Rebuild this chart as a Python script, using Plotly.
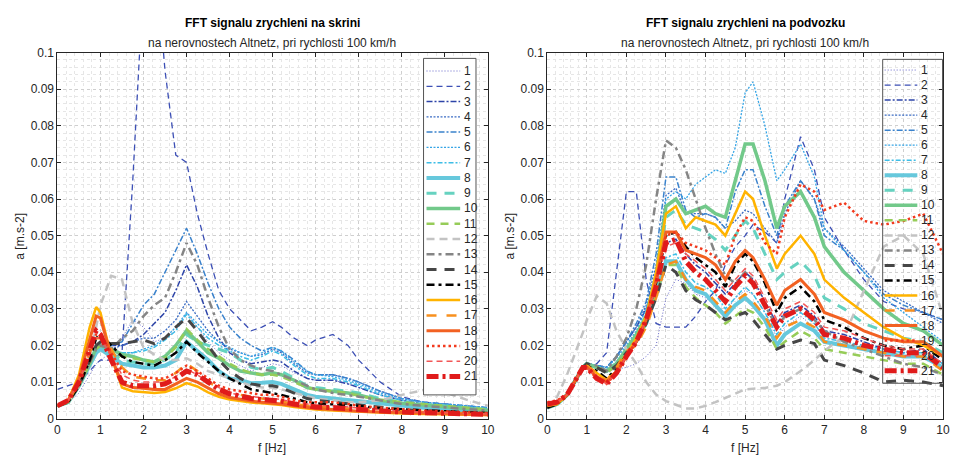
import plotly.graph_objects as go

# Frequency samples [Hz] shared by every spectrum
FREQ = [0, 0.25, 0.5, 0.75, 0.9,
        1.0, 1.25, 1.5, 1.75, 2.0,
        2.25, 2.5, 2.75, 3.0, 3.25,
        3.5, 3.75, 4.0, 4.25, 4.5,
        4.75, 5.0, 5.2, 5.5, 5.8,
        6.0, 6.4, 6.75, 7.0, 7.5,
        8.0, 8.5, 9.0, 9.5, 10.0]

# ---- FFT amplitude on the car body (skrin) [m.s-2] ----
K1 = [0.0035, 0.0045, 0.007, 0.012, 0.015, 0.016, 0.018, 0.022, 0.027, 0.025,
      0.021, 0.022, 0.024, 0.029, 0.025, 0.021, 0.018, 0.016, 0.0145, 0.013,
      0.014, 0.015, 0.0145, 0.0125, 0.011, 0.0105, 0.0105, 0.0095, 0.0085, 0.0065,
      0.005, 0.004, 0.0035, 0.003, 0.0025]
K2 = [0.008, 0.009, 0.010, 0.013, 0.015, 0.016, 0.016, 0.018, 0.065, 0.120,
      0.130, 0.095, 0.072, 0.070, 0.056, 0.045, 0.035, 0.030, 0.027, 0.024,
      0.025, 0.0265, 0.025, 0.022, 0.020, 0.0215, 0.023, 0.020, 0.016, 0.010,
      0.006, 0.0045, 0.004, 0.003, 0.0025]
K3 = [0.0035, 0.0045, 0.009, 0.015, 0.018, 0.019, 0.020, 0.020, 0.021, 0.023,
      0.026, 0.029, 0.035, 0.042, 0.036, 0.028, 0.022, 0.018, 0.016, 0.015,
      0.0155, 0.016, 0.0155, 0.013, 0.011, 0.0105, 0.0105, 0.0095, 0.0085, 0.0065,
      0.005, 0.004, 0.0035, 0.003, 0.0025]
K4 = [0.0035, 0.0045, 0.009, 0.015, 0.018, 0.019, 0.019, 0.020, 0.021, 0.022,
      0.022, 0.024, 0.027, 0.032, 0.028, 0.024, 0.021, 0.019, 0.018, 0.017,
      0.0175, 0.019, 0.018, 0.015, 0.0125, 0.012, 0.012, 0.011, 0.010, 0.0075,
      0.0055, 0.0045, 0.004, 0.0035, 0.003]
K5 = [0.0035, 0.0045, 0.009, 0.015, 0.019, 0.020, 0.020, 0.021, 0.026, 0.031,
      0.034, 0.040, 0.046, 0.052, 0.045, 0.037, 0.030, 0.025, 0.022, 0.020,
      0.0185, 0.0195, 0.0185, 0.016, 0.013, 0.012, 0.012, 0.011, 0.010, 0.0075,
      0.0055, 0.0045, 0.004, 0.0035, 0.003]
K6 = [0.0035, 0.0045, 0.009, 0.015, 0.019, 0.020, 0.019, 0.018, 0.018, 0.019,
      0.020, 0.022, 0.025, 0.029, 0.026, 0.023, 0.021, 0.0195, 0.018, 0.017,
      0.018, 0.0195, 0.0185, 0.0155, 0.013, 0.012, 0.0115, 0.0105, 0.0095, 0.007,
      0.0055, 0.0045, 0.004, 0.0035, 0.003]
K7 = [0.0035, 0.0045, 0.009, 0.015, 0.019, 0.020, 0.019, 0.018, 0.018, 0.0185,
      0.0195, 0.0215, 0.024, 0.0285, 0.025, 0.022, 0.020, 0.0185, 0.017, 0.016,
      0.017, 0.0185, 0.0175, 0.0145, 0.012, 0.011, 0.011, 0.010, 0.009, 0.0065,
      0.005, 0.004, 0.0035, 0.003, 0.0025]
K8 = [0.0035, 0.0045, 0.009, 0.015, 0.018, 0.019, 0.017, 0.015, 0.0145, 0.014,
      0.014, 0.0145, 0.016, 0.021, 0.0185, 0.016, 0.013, 0.011, 0.0105, 0.0097,
      0.0098, 0.010, 0.0095, 0.008, 0.0065, 0.006, 0.0055, 0.005, 0.0047, 0.004,
      0.0035, 0.003, 0.0025, 0.0022, 0.002]
K9 = [0.0035, 0.0045, 0.009, 0.015, 0.019, 0.020, 0.018, 0.016, 0.0155, 0.015,
      0.015, 0.016, 0.018, 0.023, 0.021, 0.020, 0.019, 0.018, 0.016, 0.014,
      0.0135, 0.014, 0.013, 0.011, 0.009, 0.0085, 0.008, 0.0075, 0.007, 0.0055,
      0.0045, 0.004, 0.0035, 0.003, 0.0025]
K10 = [0.0035, 0.0045, 0.009, 0.015, 0.0195, 0.020, 0.019, 0.0175, 0.017, 0.016,
       0.0155, 0.017, 0.020, 0.024, 0.021, 0.018, 0.0165, 0.0145, 0.013, 0.0125,
       0.012, 0.0125, 0.012, 0.0105, 0.0085, 0.008, 0.0075, 0.007, 0.0065, 0.005,
       0.0042, 0.0037, 0.0032, 0.0028, 0.0023]
K11 = [0.0035, 0.0045, 0.009, 0.015, 0.019, 0.020, 0.0185, 0.017, 0.0165, 0.016,
       0.0155, 0.0165, 0.0195, 0.0245, 0.0215, 0.019, 0.017, 0.015, 0.0135, 0.0125,
       0.012, 0.012, 0.0115, 0.010, 0.0085, 0.008, 0.0075, 0.007, 0.0062, 0.0052,
       0.0045, 0.004, 0.0035, 0.003, 0.0025]
K12 = [0.0035, 0.0045, 0.009, 0.017, 0.025, 0.031, 0.039, 0.038, 0.026, 0.0195,
       0.0175, 0.016, 0.016, 0.0165, 0.015, 0.013, 0.012, 0.011, 0.010, 0.009,
       0.0085, 0.0085, 0.008, 0.007, 0.006, 0.0055, 0.005, 0.0045, 0.0045, 0.005,
       0.0065, 0.0078, 0.0072, 0.0052, 0.0035]
K13 = [0.0035, 0.0045, 0.009, 0.015, 0.019, 0.020, 0.019, 0.022, 0.024, 0.028,
       0.031, 0.033, 0.040, 0.048, 0.042, 0.033, 0.025, 0.019, 0.016, 0.0145,
       0.0135, 0.013, 0.012, 0.0105, 0.009, 0.008, 0.007, 0.0065, 0.006, 0.005,
       0.004, 0.0035, 0.003, 0.0025, 0.0022]
K14 = [0.0035, 0.0045, 0.009, 0.016, 0.020, 0.021, 0.0205, 0.0205, 0.021, 0.0215,
       0.0205, 0.022, 0.025, 0.0275, 0.024, 0.020, 0.016, 0.013, 0.011, 0.0095,
       0.009, 0.009, 0.0085, 0.007, 0.0055, 0.005, 0.0045, 0.004, 0.0037, 0.003,
       0.0025, 0.0022, 0.002, 0.0018, 0.0015]
K15 = [0.0035, 0.0045, 0.009, 0.016, 0.022, 0.023, 0.020, 0.017, 0.0155, 0.015,
       0.0145, 0.016, 0.018, 0.021, 0.018, 0.0155, 0.013, 0.011, 0.0095, 0.008,
       0.0075, 0.007, 0.0065, 0.0055, 0.0045, 0.0042, 0.004, 0.0037, 0.0035, 0.0028,
       0.0025, 0.0022, 0.002, 0.0018, 0.0015]
K16 = [0.0035, 0.005, 0.012, 0.025, 0.0305, 0.029, 0.017, 0.0085, 0.0075, 0.0073,
       0.007, 0.0073, 0.0083, 0.0097, 0.0088, 0.0072, 0.006, 0.0052, 0.0047, 0.0044,
       0.0042, 0.004, 0.0037, 0.0032, 0.0028, 0.0025, 0.0022, 0.002, 0.0018, 0.0016,
       0.0014, 0.0013, 0.0012, 0.0011, 0.001]
K17 = [0.0035, 0.0045, 0.010, 0.018, 0.022, 0.022, 0.019, 0.014, 0.0115, 0.011,
       0.0105, 0.0105, 0.0125, 0.015, 0.013, 0.010, 0.0085, 0.007, 0.0065, 0.006,
       0.0055, 0.005, 0.0048, 0.004, 0.0035, 0.0033, 0.003, 0.0027, 0.0025, 0.0022,
       0.002, 0.0018, 0.0016, 0.0015, 0.0013]
K18 = [0.0035, 0.005, 0.011, 0.022, 0.028, 0.0275, 0.017, 0.0095, 0.0085, 0.0083,
       0.008, 0.008, 0.0095, 0.011, 0.010, 0.0083, 0.0068, 0.0058, 0.0052, 0.0048,
       0.0045, 0.0043, 0.004, 0.0035, 0.003, 0.0028, 0.0025, 0.0022, 0.002, 0.0018,
       0.0016, 0.0014, 0.0013, 0.0012, 0.0011]
K19 = [0.0035, 0.005, 0.010, 0.019, 0.023, 0.023, 0.018, 0.013, 0.012, 0.0115,
       0.011, 0.011, 0.0125, 0.0145, 0.013, 0.011, 0.009, 0.008, 0.0075, 0.007,
       0.0065, 0.0065, 0.006, 0.005, 0.0045, 0.0045, 0.0045, 0.004, 0.0035, 0.003,
       0.0025, 0.0022, 0.002, 0.0018, 0.0015]
K20 = [0.0035, 0.005, 0.010, 0.018, 0.022, 0.022, 0.017, 0.012, 0.0105, 0.010,
       0.010, 0.010, 0.0115, 0.0135, 0.012, 0.010, 0.0085, 0.007, 0.0065, 0.006,
       0.0057, 0.0055, 0.0052, 0.0045, 0.004, 0.0037, 0.0035, 0.0032, 0.003, 0.0025,
       0.002, 0.0018, 0.0016, 0.0015, 0.0013]
K21 = [0.0035, 0.005, 0.010, 0.019, 0.024, 0.023, 0.016, 0.010, 0.009, 0.009,
       0.009, 0.0095, 0.011, 0.013, 0.012, 0.010, 0.008, 0.0068, 0.006, 0.0055,
       0.0052, 0.005, 0.0048, 0.004, 0.0035, 0.0032, 0.003, 0.0027, 0.0025, 0.002,
       0.0018, 0.0016, 0.0015, 0.0013, 0.0012]

# ---- FFT amplitude on the bogie (podvozek) [m.s-2] ----
P1 = [0.003, 0.004, 0.0065, 0.011, 0.014, 0.0145, 0.014, 0.013, 0.0135, 0.014,
      0.015, 0.017, 0.020, 0.033, 0.038, 0.037, 0.034, 0.033, 0.031, 0.029,
      0.033, 0.035, 0.034, 0.029, 0.022, 0.025, 0.028, 0.025, 0.021, 0.020,
      0.019, 0.018, 0.017, 0.017, 0.014]
P2 = [0.003, 0.004, 0.0065, 0.011, 0.014, 0.015, 0.015, 0.018, 0.040, 0.062,
      0.062, 0.038, 0.026, 0.025, 0.025, 0.025, 0.028, 0.032, 0.035, 0.042,
      0.047, 0.050, 0.053, 0.051, 0.048, 0.060, 0.077, 0.068, 0.055, 0.046,
      0.038, 0.032, 0.030, 0.029, 0.027]
P3 = [0.003, 0.004, 0.0065, 0.011, 0.014, 0.015, 0.0145, 0.014, 0.017, 0.021,
      0.025, 0.030, 0.038, 0.048, 0.049, 0.045, 0.042, 0.040, 0.037, 0.034,
      0.037, 0.040, 0.038, 0.032, 0.026, 0.029, 0.031, 0.028, 0.024, 0.023,
      0.021, 0.019, 0.018, 0.019, 0.015]
P4 = [0.003, 0.004, 0.0065, 0.011, 0.014, 0.015, 0.0145, 0.014, 0.017, 0.021,
      0.025, 0.031, 0.042, 0.061, 0.063, 0.056, 0.056, 0.056, 0.055, 0.052,
      0.054, 0.057, 0.056, 0.052, 0.048, 0.056, 0.065, 0.060, 0.052, 0.047,
      0.041, 0.035, 0.032, 0.029, 0.026]
P5 = [0.003, 0.004, 0.0065, 0.011, 0.014, 0.015, 0.0145, 0.014, 0.017, 0.021,
      0.026, 0.032, 0.045, 0.066, 0.066, 0.057, 0.055, 0.056, 0.055, 0.052,
      0.062, 0.068, 0.068, 0.058, 0.050, 0.058, 0.065, 0.060, 0.050, 0.046,
      0.040, 0.034, 0.031, 0.029, 0.027]
P6 = [0.003, 0.004, 0.0065, 0.011, 0.014, 0.015, 0.0145, 0.014, 0.0165, 0.020,
      0.024, 0.030, 0.040, 0.060, 0.062, 0.060, 0.064, 0.066, 0.068, 0.067,
      0.074, 0.089, 0.092, 0.080, 0.065, 0.068, 0.075, 0.066, 0.052, 0.046,
      0.040, 0.033, 0.029, 0.025, 0.021]
P7 = [0.003, 0.004, 0.0065, 0.011, 0.014, 0.015, 0.014, 0.013, 0.0155, 0.019,
      0.022, 0.027, 0.035, 0.044, 0.045, 0.040, 0.037, 0.036, 0.034, 0.030,
      0.033, 0.036, 0.034, 0.029, 0.023, 0.026, 0.029, 0.026, 0.022, 0.021,
      0.020, 0.019, 0.018, 0.018, 0.015]
P8 = [0.003, 0.004, 0.0065, 0.011, 0.014, 0.015, 0.014, 0.013, 0.015, 0.0185,
      0.022, 0.026, 0.034, 0.043, 0.043, 0.038, 0.035, 0.034, 0.031, 0.028,
      0.031, 0.033, 0.031, 0.027, 0.020, 0.023, 0.026, 0.024, 0.021, 0.020,
      0.019, 0.018, 0.017, 0.017, 0.014]
P9 = [0.003, 0.004, 0.0065, 0.011, 0.014, 0.015, 0.014, 0.013, 0.015, 0.019,
      0.023, 0.028, 0.038, 0.055, 0.057, 0.053, 0.052, 0.051, 0.049, 0.046,
      0.050, 0.054, 0.052, 0.045, 0.038, 0.040, 0.043, 0.039, 0.033, 0.030,
      0.026, 0.024, 0.022, 0.021, 0.018]
P10 = [0.003, 0.004, 0.0065, 0.011, 0.014, 0.015, 0.014, 0.013, 0.015, 0.019,
       0.023, 0.028, 0.039, 0.058, 0.060, 0.056, 0.057, 0.058, 0.056, 0.055,
       0.065, 0.075, 0.075, 0.065, 0.052, 0.058, 0.062, 0.055, 0.047, 0.040,
       0.035, 0.030, 0.026, 0.024, 0.020]
P11 = [0.003, 0.004, 0.0065, 0.011, 0.014, 0.0145, 0.014, 0.0125, 0.0145, 0.018,
       0.021, 0.026, 0.034, 0.042, 0.042, 0.036, 0.033, 0.031, 0.029, 0.026,
       0.028, 0.030, 0.029, 0.025, 0.019, 0.021, 0.024, 0.022, 0.019, 0.018,
       0.017, 0.016, 0.015, 0.015, 0.012]
P12 = [0.003, 0.006, 0.012, 0.019, 0.0235, 0.027, 0.0335, 0.0315, 0.024, 0.019,
       0.015, 0.010, 0.0066, 0.0048, 0.0037, 0.0028, 0.0028, 0.0035, 0.0045, 0.0057,
       0.007, 0.008, 0.0082, 0.0084, 0.009, 0.010, 0.013, 0.016, 0.0185, 0.0225,
       0.035, 0.047, 0.050, 0.045, 0.028]
P13 = [0.003, 0.004, 0.0065, 0.011, 0.014, 0.015, 0.0145, 0.013, 0.017, 0.022,
       0.030, 0.042, 0.060, 0.076, 0.074, 0.068, 0.060, 0.052, 0.045, 0.039,
       0.037, 0.040, 0.038, 0.031, 0.025, 0.028, 0.030, 0.027, 0.024, 0.021,
       0.019, 0.017, 0.015, 0.014, 0.012]
P14 = [0.003, 0.004, 0.0065, 0.011, 0.014, 0.015, 0.014, 0.0125, 0.0145, 0.018,
       0.021, 0.026, 0.033, 0.042, 0.040, 0.035, 0.0325, 0.031, 0.029, 0.027,
       0.028, 0.029, 0.027, 0.023, 0.019, 0.020, 0.0215, 0.0205, 0.016, 0.0145,
       0.0125, 0.010, 0.0105, 0.010, 0.009]
P15 = [0.003, 0.004, 0.0065, 0.011, 0.014, 0.0145, 0.013, 0.011, 0.0135, 0.0175,
       0.021, 0.027, 0.037, 0.050, 0.051, 0.047, 0.044, 0.042, 0.040, 0.036,
       0.042, 0.045, 0.043, 0.037, 0.029, 0.033, 0.036, 0.032, 0.027, 0.025,
       0.022, 0.020, 0.019, 0.020, 0.016]
P16 = [0.0035, 0.004, 0.0065, 0.011, 0.014, 0.0145, 0.0125, 0.0105, 0.013, 0.0175,
       0.022, 0.028, 0.040, 0.056, 0.058, 0.052, 0.055, 0.054, 0.053, 0.050,
       0.056, 0.062, 0.060, 0.050, 0.041, 0.045, 0.050, 0.045, 0.038, 0.033,
       0.029, 0.025, 0.022, 0.020, 0.017]
P17 = [0.0035, 0.004, 0.0065, 0.011, 0.014, 0.0145, 0.0125, 0.0105, 0.014, 0.0185,
       0.020, 0.025, 0.033, 0.042, 0.043, 0.038, 0.036, 0.035, 0.032, 0.029,
       0.032, 0.034, 0.032, 0.028, 0.022, 0.025, 0.027, 0.025, 0.021, 0.020,
       0.019, 0.018, 0.017, 0.017, 0.013]
P18 = [0.004, 0.0045, 0.0065, 0.011, 0.014, 0.014, 0.0115, 0.010, 0.0125, 0.017,
       0.021, 0.027, 0.038, 0.051, 0.051, 0.046, 0.045, 0.044, 0.042, 0.038,
       0.043, 0.046, 0.044, 0.038, 0.031, 0.035, 0.038, 0.034, 0.029, 0.027,
       0.024, 0.022, 0.021, 0.021, 0.017]
P19 = [0.0045, 0.005, 0.0065, 0.011, 0.014, 0.014, 0.011, 0.0095, 0.0125, 0.017,
       0.021, 0.027, 0.037, 0.050, 0.051, 0.048, 0.047, 0.046, 0.044, 0.042,
       0.050, 0.055, 0.054, 0.048, 0.045, 0.055, 0.064, 0.062, 0.057, 0.059,
       0.054, 0.053, 0.054, 0.056, 0.045]
P20 = [0.004, 0.0045, 0.0065, 0.011, 0.014, 0.014, 0.011, 0.0095, 0.0125, 0.017,
       0.021, 0.027, 0.036, 0.047, 0.048, 0.045, 0.043, 0.041, 0.038, 0.035,
       0.038, 0.041, 0.039, 0.033, 0.027, 0.030, 0.032, 0.029, 0.025, 0.024,
       0.022, 0.020, 0.019, 0.019, 0.015]
P21 = [0.004, 0.0045, 0.0065, 0.011, 0.014, 0.014, 0.011, 0.0095, 0.0125, 0.017,
       0.021, 0.027, 0.036, 0.048, 0.049, 0.043, 0.040, 0.038, 0.035, 0.032,
       0.036, 0.039, 0.037, 0.031, 0.025, 0.028, 0.030, 0.027, 0.023, 0.022,
       0.020, 0.019, 0.018, 0.018, 0.014]

SKRIN = [K1, K2, K3, K4, K5, K6, K7, K8, K9, K10, K11,
         K12, K13, K14, K15, K16, K17, K18, K19, K20, K21]
PODVOZEK = [P1, P2, P3, P4, P5, P6, P7, P8, P9, P10, P11,
            P12, P13, P14, P15, P16, P17, P18, P19, P20, P21]
NAMES = [str(i) for i in range(1, 22)]

# Line style of each measurement
COLORS = ["#6464c8", "#3c4fb5", "#2d44a8", "#3b6cc4", "#3a82cc", "#35a5e6",
          "#3dbde6", "#66c8dc", "#66d2c0", "#72c98a", "#96cc58", "#c3c3c3",
          "#858585", "#464646", "#000000", "#ffb300", "#f7901e", "#f26122",
          "#f23a1e", "#f25656", "#e01b1b"]
WIDTHS = [1.0, 1.3, 1.5, 1.3, 1.5, 1.3, 1.5, 4.0, 3.0, 3.5, 2.5,
          2.5, 2.5, 3.0, 2.5, 2.5, 2.5, 3.0, 2.5, 1.5, 5.0]
DASHES = ["1px,2px", "6px,4px", "6px,2px,2px,2px", "2px,1.5px",
          "6px,2px,2px,2px", "2px,1.5px", "5px,2px,2px,2px", "solid",
          "10px,8px", "solid", "8px,6px", "8px,5px", "8px,4px,3px,4px",
          "10px,8px", "8px,4px,3px,4px", "solid", "10px,10px", "solid",
          "2.5px,3px", "6px,4px", "12px,4px,3px,4px"]

W, H = 954, 463
FONT = "Liberation Sans, Arial, sans-serif"
TXT = "#262626"


def fx(p):
    return p / W


def fy(p):
    return 1 - p / H


fig = go.Figure()
for i in range(21):
    fig.add_trace(go.Scatter(
        x=FREQ, y=SKRIN[i], name=NAMES[i], mode="lines",
        xaxis="x", yaxis="y", hoverinfo="skip", showlegend=False,
        line=dict(color=COLORS[i], width=WIDTHS[i], dash=DASHES[i])))
for i in range(21):
    fig.add_trace(go.Scatter(
        x=FREQ, y=PODVOZEK[i], name=NAMES[i], mode="lines",
        xaxis="x2", yaxis="y2", hoverinfo="skip", showlegend=False,
        line=dict(color=COLORS[i], width=WIDTHS[i], dash=DASHES[i])))

axis_style = dict(
    showline=True, linecolor=TXT, linewidth=1, mirror="ticks",
    ticks="inside", ticklen=4, tickcolor=TXT, zeroline=False,
    showgrid=True, gridcolor="#cfcfcf", griddash="dot", gridwidth=1,
    tickfont=dict(family=FONT, size=12, color=TXT),
)
x_style = dict(axis_style, range=[0, 10], dtick=1, tick0=0,
               minor=dict(dtick=0.2, showgrid=True, gridcolor="#e6e6e6",
                          griddash="dot", gridwidth=1))
y_style = dict(axis_style, range=[0, 0.1], dtick=0.01, tick0=0,
               minor=dict(dtick=0.002, showgrid=True, gridcolor="#e6e6e6",
                          griddash="dot", gridwidth=1))

y_dom = [fy(424.5), fy(47)]
fig.update_layout(
    width=W, height=H, margin=dict(l=0, r=0, t=0, b=0),
    paper_bgcolor="white", plot_bgcolor="white", showlegend=False,
    font=dict(family=FONT, color=TXT),
    xaxis=dict(x_style, domain=[fx(55), fx(490)], anchor="y"),
    yaxis=dict(y_style, domain=y_dom, anchor="x"),
    xaxis2=dict(x_style, domain=[fx(550), fx(950)], anchor="y2"),
    yaxis2=dict(y_style, domain=y_dom, anchor="x2"),
)

shapes = []
annotations = []


def text(x, y, s, size=12, bold=False, angle=0, anchor="center"):
    annotations.append(dict(
        x=fx(x), y=fy(y), xref="paper", yref="paper", text=s, showarrow=False,
        xanchor=anchor, yanchor="middle", textangle=angle,
        font=dict(family=FONT, size=size, color="#000000" if bold else TXT,
                  weight="bold" if bold else "normal")))


# titles and axis labels
text(272, 17, "FFT signalu zrychleni na skrini", bold=True)
text(272, 37, "na nerovnostech Altnetz, pri rychlosti 100 km/h")
text(750, 17, "FFT signalu zrychleni na podvozku", bold=True)
text(750, 37, "na nerovnostech Altnetz, pri rychlosti 100 km/h")
text(17, 236, "a [m.s-2]", angle=-90)
text(512, 236, "a [m.s-2]", angle=-90)
text(272, 455, "f [Hz]")
text(750, 455, "f [Hz]")


def legend(box, line_x, label_x, y_first, step, fill):
    x0, y0, x1, y1 = box
    shapes.append(dict(type="rect", xref="paper", yref="paper",
                       x0=fx(x0), x1=fx(x1), y0=fy(y1), y1=fy(y0),
                       fillcolor=fill, line=dict(color="#555555", width=1),
                       layer="above"))
    for i in range(21):
        yy = y_first + step * i
        shapes.append(dict(type="line", xref="paper", yref="paper",
                           x0=fx(line_x[0]), x1=fx(line_x[1]),
                           y0=fy(yy), y1=fy(yy), layer="above",
                           line=dict(color=COLORS[i], width=WIDTHS[i],
                                     dash=DASHES[i])))
        text(label_x, yy, NAMES[i], anchor="left")


legend((425, 53, 478, 400), (428, 462), 464, 66, 15.75, "white")
legend((889, 54, 949.5, 388), (891, 924), 926, 65, 15.5, "rgba(0,0,0,0)")

fig.update_layout(shapes=shapes, annotations=annotations)
fig.write_html("out.html", config={"displayModeBar": False})
